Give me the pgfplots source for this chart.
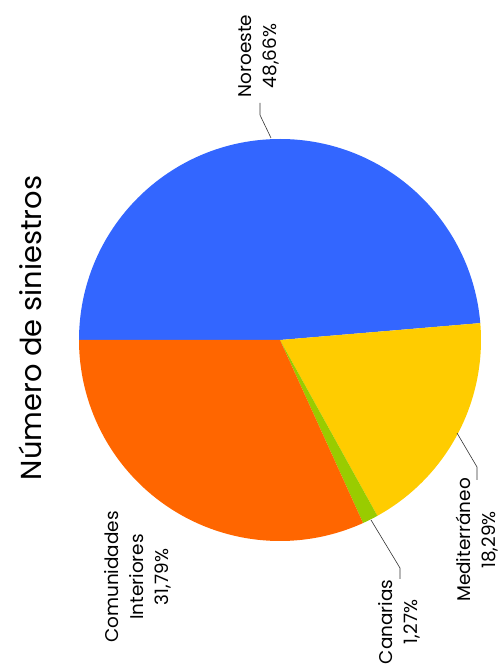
\documentclass[border=0pt]{standalone}
\usepackage{pgfplots}
\usepackage{pgfplotstable}
\pgfplotsset{compat=1.18}
\usepackage{fontspec}
\setmainfont{Poppins}
\definecolor{cNor}{RGB}{51,102,255}
\definecolor{cMed}{RGB}{255,204,0}
\definecolor{cCan}{RGB}{153,204,0}
\definecolor{cCom}{RGB}{255,102,0}
\pgfplotstableread[col sep=comma]{
region,pct
Noroeste,48.66
Mediterraneo,18.29
Canarias,1.27
Comunidades,31.79
}\datatable
\pgfplotstablegetelem{0}{pct}\of\datatable \let\pA\pgfplotsretval
\pgfplotstablegetelem{1}{pct}\of\datatable \let\pB\pgfplotsretval
\pgfplotstablegetelem{2}{pct}\of\datatable \let\pC\pgfplotsretval
\pgfplotstablegetelem{3}{pct}\of\datatable \let\pD\pgfplotsretval
\pgfmathsetmacro\aO{180}
\pgfmathsetmacro\aA{\aO-3.6*\pA}
\pgfmathsetmacro\aB{\aA-3.6*\pB}
\pgfmathsetmacro\aC{\aB-3.6*\pC}
\pgfmathsetmacro\aD{\aC-3.6*\pD}
\def\R{201}
\begin{document}
\begin{tikzpicture}
\useasboundingbox (0,0) rectangle (503bp,664bp);
\begin{axis}[x=1bp,y=1bp,xmin=0,xmax=503,ymin=0,ymax=664,
  hide axis,scale only axis,clip=false,anchor=south west,at={(0,0)}]
\fill[cNor] (axis cs:280,324) -- ++(\aO:\R bp) arc[start angle=\aO,end angle=\aA,radius=\R bp] -- cycle;
\fill[cMed] (axis cs:280,324) -- ++(\aA:\R bp) arc[start angle=\aA,end angle=\aB,radius=\R bp] -- cycle;
\fill[cCan] (axis cs:280,324) -- ++(\aB:\R bp) arc[start angle=\aB,end angle=\aC,radius=\R bp] -- cycle;
\fill[cCom] (axis cs:280,324) -- ++(\aC:\R bp) arc[start angle=\aC,end angle=\aD,radius=\R bp] -- cycle;
% leader lines
\draw[black!80,line width=0.6bp] (axis cs:271,526) -- (axis cs:260,549) -- (axis cs:260,561);
\draw[black!80,line width=0.6bp] (axis cs:457,231) -- (axis cs:477,197) -- (axis cs:477,184);
\draw[black!80,line width=0.6bp] (axis cs:371,144) -- (axis cs:400,96) -- (axis cs:400,85);
% labels
\node[rotate=90,align=center,font=\fontsize{18.5}{25}\selectfont,inner sep=0pt] at (axis cs:259,608) {Noroeste\\48,66\%};
\node[rotate=90,align=center,font=\fontsize{18.5}{25}\selectfont,inner sep=0pt] at (axis cs:477,124) {Mediterráneo\\18,29\%};
\node[rotate=90,align=center,font=\fontsize{18.5}{25}\selectfont,inner sep=0pt] at (axis cs:399,42) {Canarias\\1,27\%};
\node[rotate=90,align=center,font=\fontsize{18.5}{25}\selectfont,inner sep=0pt] at (axis cs:138,87) {Comunidades\\Interiores\\31,79\%};
\node[rotate=90,font=\fontsize{29}{32}\selectfont,inner sep=0pt] at (axis cs:30,336) {Número de siniestros};
\end{axis}
\end{tikzpicture}
\end{document}
